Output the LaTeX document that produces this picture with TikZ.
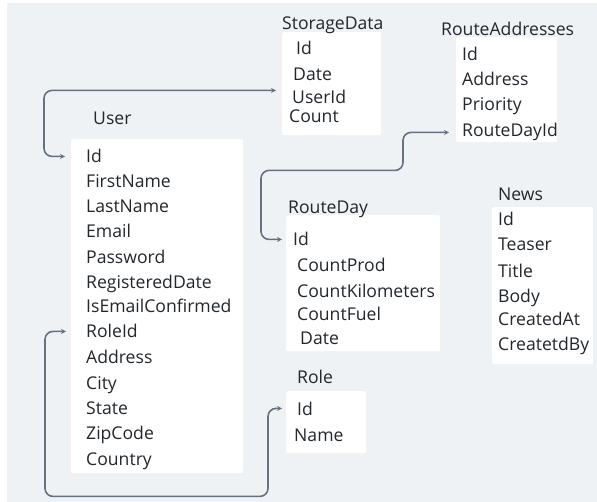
\documentclass[tikz,border=0pt]{standalone}
\usepackage{fontspec}
\setmainfont{Open Sans}
\usepackage{xcolor}
\usetikzlibrary{arrows.meta, positioning}
\definecolor{canvas}{HTML}{EEF2F5}
\definecolor{ink}{HTML}{22272C}
\definecolor{wire}{HTML}{657180}

\begin{document}
\begin{tikzpicture}[x=1pt,y=-1pt,
  every node/.style={inner sep=0pt, text=ink, font=\fontsize{17.6}{20}\selectfont},
  head/.style={anchor=base west},
  row/.style={anchor=base west},
  entity/.style={fill=white, rounded corners=2pt, anchor=north west},
  link/.style={draw=wire, line width=1.6pt, rounded corners=8pt,
    {Stealth[length=5pt,width=5pt]}-{Stealth[length=5pt,width=5pt]}}]
        \useasboundingbox (0,0) rectangle (597,502);
        \fill[canvas] (7,3) rectangle (597,502);

        \node[entity, minimum width=99, minimum height=103] (sd) at (282,32) {};
        \node[entity, minimum width=101, minimum height=105] (ra) at (456,37) {};
        \node[entity, minimum width=172, minimum height=334] (user) at (71,139) {};
        \node[entity, minimum width=154, minimum height=136] (rd) at (286,215) {};
        \node[entity, minimum width=101, minimum height=157] (news) at (492,207) {};
        \node[entity, minimum width=80, minimum height=62] (role) at (286,391) {};

        \node[head] (tsd) at (282,30) {StorageData};
        \node[head] (tra) at (441,36) {RouteAddresses};
        \node[head] (tuser) at (93,125) {User};
        \node[head] (trd) at (288,214) {RouteDay};
        \node[head] (tnews) at (498,201) {News};
        \node[head] (trole) at (297,384) {Role};

        \node[row] (sdid) at (296,55) {Id}; \node[row] (sddate) at (293,81) {Date};
        \node[row] (sdu) at (292,104) {UserId}; \node[row] (sdcount) at (289,123) {Count};

        \node[row] (raid) at (462,61) {Id}; \node[row] (raaddr) at (462,86) {Address};
        \node[row] (raprio) at (462,111) {Priority}; \node[row] (rar) at (462,137) {RouteDayId};

        \node[row] (uid) at (86,163) {Id}; \node[row] (ufirst) at (86,188) {FirstName};
        \node[row] (ulast) at (86,213) {LastName}; \node[row] (umail) at (86,238) {Email};
        \node[row] (upass) at (86,264) {Password}; \node[row] (ureg) at (86,289) {RegisteredDate};
        \node[row] (uconf) at (86,313) {IsEmailConfirmed}; \node[row] (urole) at (86,338) {RoleId};
        \node[row] (uaddr) at (86,364) {Address}; \node[row] (ucity) at (86,389) {City};
        \node[row] (ustate) at (86,414) {State}; \node[row] (uzip) at (86,439) {ZipCode};
        \node[row] (ucountry) at (86,465) {Country};

        \node[row] (rdid) at (293,246) {Id}; \node[row] (rdprod) at (297,272) {CountProd};
        \node[row] (rdkm) at (297,298) {CountKilometers}; \node[row] (rdfuel) at (297,321) {CountFuel};
        \node[row] (rddate) at (300,345) {Date};

        \node[row] (nid) at (498,226) {Id}; \node[row] (nteaser) at (498,251) {Teaser};
        \node[row] (ntitle) at (498,278) {Title}; \node[row] (nbody) at (498,303) {Body};
        \node[row] (nat) at (498,326) {CreatedAt}; \node[row] (nby) at (498,351) {CreatetdBy};

        \node[row] (rid) at (297,415) {Id}; \node[row] (rname) at (294,441) {Name};

        \draw[link] ([xshift=-6pt]sd.west |- sdu.north) -- ++(-232,0) |- ([xshift=-6pt]user.west |- uid);
        \draw[link] ([xshift=-7pt]ra.west |- rar) -- ++(-46,0) |- ++(-142,38) |- ([xshift=-4pt]rd.west |- rdid);
        \draw[link] ([xshift=-5pt]user.west |- urole) -- ++(-21,0) |- ++(223,165) |- ([xshift=-4pt]role.west |- rid);
\end{tikzpicture}
\end{document}
